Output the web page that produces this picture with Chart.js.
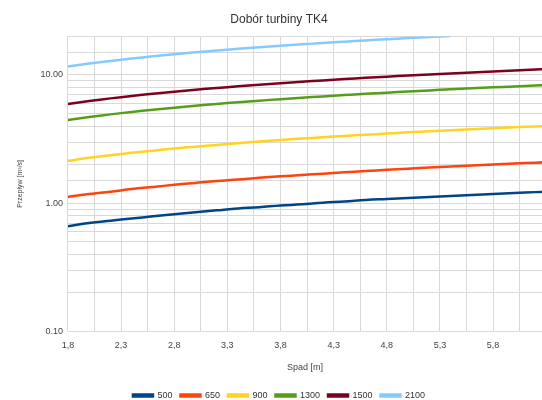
<!DOCTYPE html>
<html>
<head>
<meta charset="utf-8">
<script src="https://cdn.jsdelivr.net/npm/chart.js@4"></script>
<style>
  html, body { margin: 0; padding: 0; background: #fff; }
  #wrap { width: 542px; height: 400px; }
</style>
</head>
<body>
<div id="wrap"><canvas id="myChart"></canvas></div>
<script>
// Spad [m]
var spad = [1.8, 2.0, 2.2, 2.4, 2.6, 2.8, 3.0, 3.2, 3.4, 3.6, 3.8, 4.0, 4.2, 4.4, 4.6, 4.8, 5.0, 5.2, 5.4, 5.6, 5.8, 6.0, 6.2, 6.3];

// Przepływ [m3/s] for each turbine size
var q500 = [0.66, 0.70, 0.73, 0.76, 0.79, 0.82, 0.85, 0.88, 0.91, 0.93, 0.96, 0.98, 1.01, 1.03, 1.06, 1.08, 1.10, 1.12, 1.14, 1.16, 1.18, 1.20, 1.22, 1.23];
var q650 = [1.12, 1.18, 1.23, 1.29, 1.34, 1.39, 1.44, 1.49, 1.53, 1.58, 1.62, 1.66, 1.70, 1.74, 1.78, 1.82, 1.86, 1.90, 1.93, 1.97, 2.00, 2.04, 2.07, 2.09];
var q900 = [2.14, 2.26, 2.37, 2.47, 2.57, 2.67, 2.76, 2.85, 2.94, 3.03, 3.11, 3.19, 3.27, 3.35, 3.42, 3.49, 3.57, 3.64, 3.71, 3.77, 3.84, 3.91, 3.97, 4.00];
var q1300 = [4.46, 4.70, 4.93, 5.15, 5.36, 5.56, 5.76, 5.95, 6.13, 6.31, 6.48, 6.65, 6.81, 6.97, 7.13, 7.28, 7.43, 7.58, 7.73, 7.87, 8.01, 8.14, 8.28, 8.34];
var q1500 = [5.94, 6.26, 6.57, 6.86, 7.14, 7.41, 7.67, 7.92, 8.16, 8.40, 8.63, 8.86, 9.07, 9.29, 9.50, 9.70, 9.90, 10.10, 10.29, 10.48, 10.66, 10.85, 11.02, 11.11];
var q2100 = [11.64, 12.27, 12.87, 13.44, 13.99, 14.52, 15.03, 15.52, 16.00, 16.46, 16.91, 17.35, 17.78, 18.20, 18.61, 19.01, 19.40, 19.79, 20.16];

var labels = ['500', '650', '900', '1300', '1500', '2100'];
var colors = ['#004586', '#ff420e', '#ffd320', '#579d1c', '#7e0021', '#83caff'];
var series = [q500, q650, q900, q1300, q1500, q2100];

var xTicks = [1.8, 2.05, 2.3, 2.55, 2.8, 3.05, 3.3, 3.55, 3.8, 4.05, 4.3, 4.55, 4.8, 5.05, 5.3, 5.55, 5.8, 6.05];

var datasets = series.map(function (vals, i) {
  return {
    label: labels[i],
    data: vals.map(function (v, j) { return { x: spad[j], y: v }; }),
    borderColor: colors[i],
    backgroundColor: colors[i],
    borderWidth: 2.5,
    pointRadius: 0,
    tension: 0.4,
    clip: 0
  };
});

var ctx = document.getElementById('myChart').getContext('2d');
new Chart(ctx, {
  type: 'line',
  data: { datasets: datasets },
  options: {
    responsive: true,
    maintainAspectRatio: false,
    animation: false,
    layout: { padding: { left: 16, right: 0, top: 0, bottom: -10 } },
    plugins: {
      title: {
        display: true,
        text: 'Dobór turbiny TK4',
        color: '#333',
        font: { family: 'Liberation Sans', size: 12, weight: 'normal' },
        padding: { top: 12, bottom: 10 }
      },
      legend: {
        position: 'bottom',
        labels: {
          boxWidth: 20,
          boxHeight: 2,
          color: '#333',
          padding: 8,
          font: { family: 'Liberation Sans', size: 9 }
        }
      },
      tooltip: { enabled: false }
    },
    scales: {
      x: {
        type: 'linear',
        min: 1.8,
        max: 6.26,
        afterBuildTicks: function (axis) {
          axis.ticks = xTicks.map(function (v) { return { value: v }; });
        },
        grid: { color: '#d9d9d9', drawTicks: false },
        border: { display: false },
        ticks: {
          autoSkip: false,
          maxRotation: 0,
          padding: 9,
          color: '#444',
          font: { family: 'Liberation Sans', size: 9 },
          callback: function (v, i) {
            return i % 2 === 0 ? v.toFixed(1).replace('.', ',') : '';
          }
        },
        title: {
          display: true,
          text: 'Spad [m]',
          color: '#444',
          font: { family: 'Liberation Sans', size: 9 },
          padding: { top: 2, bottom: 10 }
        }
      },
      y: {
        type: 'logarithmic',
        min: 0.1,
        max: 20,
        grid: { color: '#d9d9d9', drawTicks: false },
        border: { display: false },
        ticks: {
          autoSkip: false,
          padding: 5,
          color: '#444',
          font: { family: 'Liberation Sans', size: 9 },
          callback: function (v) {
            var l = Math.log10(v);
            return Math.abs(l - Math.round(l)) < 1e-6 ? v.toFixed(2) : '';
          }
        },
        title: {
          display: true,
          text: 'Przepływ [m³/s]',
          color: '#444',
          font: { family: 'Liberation Sans', size: 7 },
          padding: { top: 0, bottom: 11 }
        }
      }
    }
  }
});
</script>
</body>
</html>
